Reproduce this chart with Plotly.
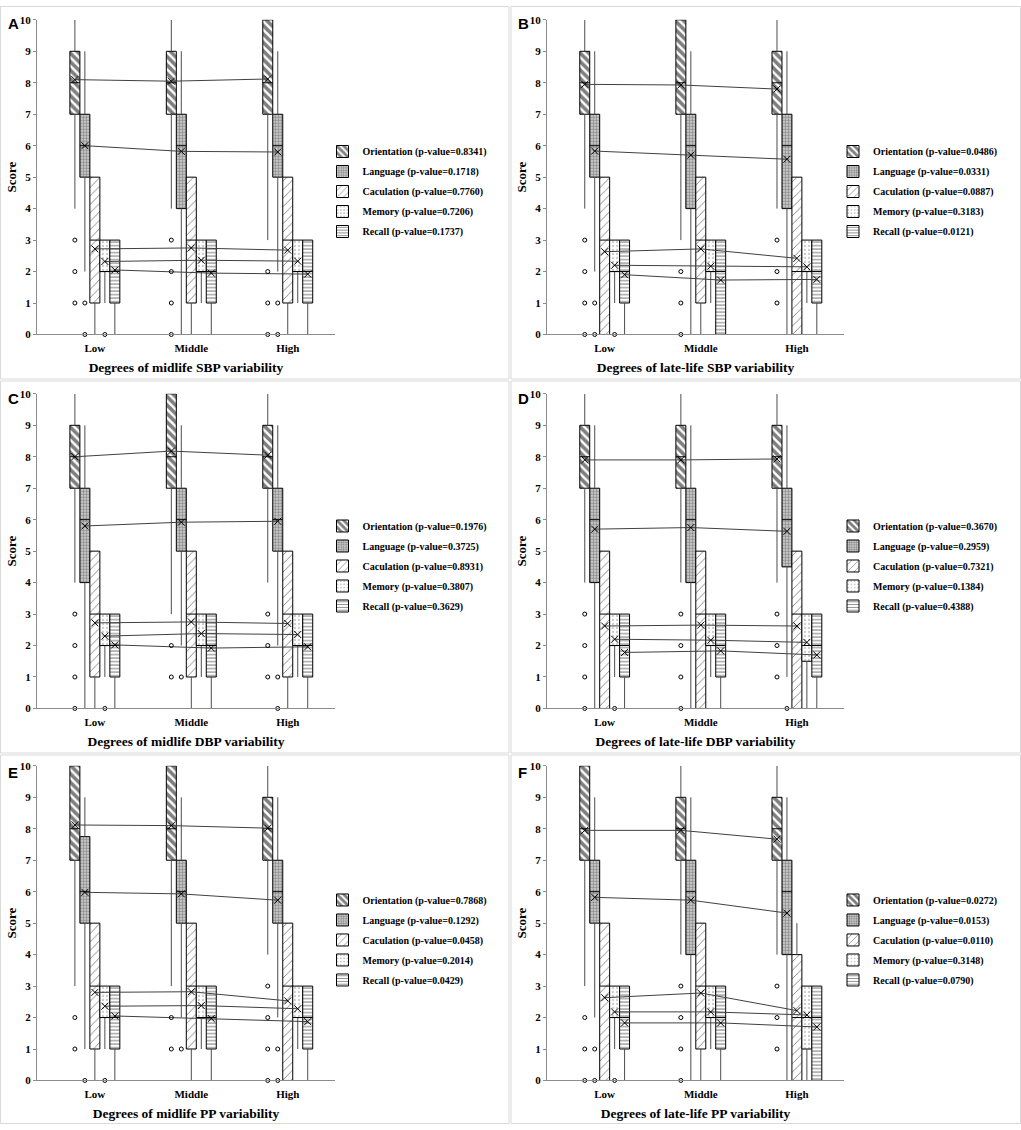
import plotly.graph_objects as go

groups = ["Low", "Middle", "High"]
domains = ["Orientation", "Language", "Caculation", "Memory", "Recall"]
letters = ["A", "B", "C", "D", "E", "F"]
x_titles = [
    "Degrees of midlife SBP variability",
    "Degrees of late-life SBP variability",
    "Degrees of midlife DBP variability",
    "Degrees of late-life DBP variability",
    "Degrees of midlife PP variability",
    "Degrees of late-life PP variability",
]
p_values = [
    ["0.8341", "0.1718", "0.7760", "0.7206", "0.1737"],
    ["0.0486", "0.0331", "0.0887", "0.3183", "0.0121"],
    ["0.1976", "0.3725", "0.8931", "0.3807", "0.3629"],
    ["0.3670", "0.2959", "0.7321", "0.1384", "0.4388"],
    ["0.7868", "0.1292", "0.0458", "0.2014", "0.0429"],
    ["0.0272", "0.0153", "0.0110", "0.3148", "0.0790"],
]

# each stat: [Low, Middle, High] x [Orientation, Language, Caculation, Memory, Recall]
a_min = [[4, 2, 0, 1, 0], [4, 0, 0, 1, 0], [3, 2, 0, 1, 0]]
a_q1 = [[7, 5, 1, 2, 1], [7, 4, 1, 2, 1], [7, 5, 1, 2, 1]]
a_med = [[8, 6, 3, 2, 2], [8, 6, 3, 2, 2], [8, 6, 3, 2, 2]]
a_q3 = [[9, 7, 5, 3, 3], [9, 7, 5, 3, 3], [10, 7, 5, 3, 3]]
a_max = [[10, 9, 5, 3, 3], [10, 9, 5, 3, 3], [10, 9, 5, 3, 3]]
a_mean = [[8.1, 6.0, 2.72, 2.32, 2.05], [8.05, 5.82, 2.75, 2.36, 1.95], [8.12, 5.8, 2.68, 2.33, 1.92]]
a_out = [[[3, 2, 1], [1, 0], [], [0], []], [[3, 2, 1, 0], [], [], [], []], [[2, 1, 0], [1, 0], [], [], []]]

b_min = [[4, 2, 0, 1, 0], [3, 0, 0, 1, 0], [4, 0, 0, 1, 0]]
b_q1 = [[7, 5, 0, 2, 1], [7, 4, 1, 2, 0], [7, 4, 0, 2, 1]]
b_med = [[8, 6, 3, 2, 2], [8, 6, 3, 2, 2], [8, 6, 2, 2, 2]]
b_q3 = [[9, 7, 5, 3, 3], [10, 7, 5, 3, 3], [9, 7, 5, 3, 3]]
b_max = [[10, 9, 5, 3, 3], [10, 9, 5, 3, 3], [10, 9, 5, 3, 3]]
b_mean = [[7.95, 5.83, 2.63, 2.2, 1.9], [7.93, 5.7, 2.72, 2.17, 1.73], [7.8, 5.57, 2.42, 2.15, 1.75]]
b_out = [[[3, 2, 1, 0], [1, 0], [], [0], []], [[2, 1, 0], [], [], [], []], [[3, 2, 1], [], [], [], []]]

c_min = [[4, 0, 0, 1, 0], [3, 2, 0, 1, 0], [4, 2, 0, 1, 0]]
c_q1 = [[7, 4, 1, 2, 1], [7, 5, 1, 2, 1], [7, 5, 1, 2, 1]]
c_med = [[8, 6, 3, 2, 2], [8, 6, 3, 2, 2], [8, 6, 3, 2, 2]]
c_q3 = [[9, 7, 5, 3, 3], [10, 7, 5, 3, 3], [9, 7, 5, 3, 3]]
c_max = [[10, 9, 5, 3, 3], [10, 9, 5, 3, 3], [10, 9, 5, 3, 3]]
c_mean = [[8.0, 5.8, 2.72, 2.3, 2.02], [8.18, 5.92, 2.75, 2.38, 1.92], [8.05, 5.95, 2.7, 2.35, 1.96]]
c_out = [[[3, 2, 1, 0], [], [], [0], []], [[2, 1], [1], [], [], []], [[3, 2, 1], [1, 0], [], [], []]]

d_min = [[4, 0, 0, 1, 0], [4, 0, 0, 1, 0], [4, 1, 0, 0, 0]]
d_q1 = [[7, 4, 0, 2, 1], [7, 4, 0, 2, 1], [7, 4.5, 0, 1.5, 1]]
d_med = [[8, 6, 3, 2, 2], [8, 6, 3, 2, 2], [8, 6, 3, 2, 2]]
d_q3 = [[9, 7, 5, 3, 3], [9, 7, 5, 3, 3], [9, 7, 5, 3, 3]]
d_max = [[10, 9, 5, 3, 3], [10, 9, 5, 3, 3], [10, 9, 5, 3, 3]]
d_mean = [[7.9, 5.7, 2.62, 2.2, 1.78], [7.9, 5.75, 2.65, 2.17, 1.83], [7.93, 5.63, 2.62, 2.1, 1.7]]
d_out = [[[3, 2, 1, 0], [], [], [0], []], [[3, 2, 1, 0], [], [], [], []], [[3, 2, 1], [0], [], [], []]]

e_min = [[3, 1, 0, 1, 0], [3, 2, 0, 1, 0], [4, 2, 0, 1, 0]]
e_q1 = [[7, 5, 1, 2, 1], [7, 5, 1, 2, 1], [7, 5, 0, 2, 1]]
e_med = [[8, 6, 3, 2, 2], [8, 6, 3, 2, 2], [8, 6, 3, 2, 2]]
e_q3 = [[10, 7.75, 5, 3, 3], [10, 7, 5, 3, 3], [9, 7, 5, 3, 3]]
e_max = [[10, 9, 5, 3, 3], [10, 9, 5, 3, 3], [10, 9, 5, 3, 3]]
e_mean = [[8.12, 5.98, 2.8, 2.36, 2.05], [8.1, 5.93, 2.82, 2.38, 1.97], [8.02, 5.73, 2.53, 2.28, 1.87]]
e_out = [[[2, 1], [0], [], [0], []], [[2, 1], [1], [], [], []], [[3, 2, 1, 0], [1, 0], [], [], []]]

f_min = [[3, 2, 0, 1, 0], [4, 0, 0, 1, 0], [4, 0, 0, 0, 0]]
f_q1 = [[7, 5, 0, 2, 1], [7, 4, 1, 2, 1], [7, 4, 0, 1, 0]]
f_med = [[8, 6, 3, 2, 2], [8, 6, 3, 2, 2], [8, 6, 2, 2, 2]]
f_q3 = [[10, 7, 5, 3, 3], [9, 7, 5, 3, 3], [9, 7, 4, 3, 3]]
f_max = [[10, 9, 5, 3, 3], [10, 9, 5, 3, 3], [10, 9, 5, 3, 3]]
f_mean = [[7.95, 5.82, 2.63, 2.18, 1.83], [7.95, 5.73, 2.78, 2.18, 1.83], [7.67, 5.32, 2.22, 2.08, 1.7]]
f_out = [[[2, 1, 0], [1, 0], [], [0], []], [[3, 2, 1, 0], [], [], [], []], [[3, 2, 1], [], [], [], []]]

panels = [
    (a_min, a_q1, a_med, a_q3, a_max, a_mean, a_out),
    (b_min, b_q1, b_med, b_q3, b_max, b_mean, b_out),
    (c_min, c_q1, c_med, c_q3, c_max, c_mean, c_out),
    (d_min, d_q1, d_med, d_q3, d_max, d_mean, d_out),
    (e_min, e_q1, e_med, e_q3, e_max, e_mean, e_out),
    (f_min, f_q1, f_med, f_q3, f_max, f_mean, f_out),
]

W, H = 1021, 1130
STEP = 0.1036  # width of one box in x units (one category = 1)
SERIF = "Liberation Serif"

patterns = [
    dict(shape="\\", size=6, solidity=0.6, fgcolor="black", bgcolor="white"),
    dict(shape=".", size=3, solidity=0.5, fgcolor="#3a3a3a", bgcolor="#d6d6d6"),
    dict(shape="/", size=6, solidity=0.15, fgcolor="black", bgcolor="white"),
    dict(shape=".", size=4, solidity=0.15, fgcolor="#333333", bgcolor="white"),
    dict(shape="-", size=3.5, solidity=0.3, fgcolor="black", bgcolor="white"),
]

col_px = [(37, 335), (547, 844)]
row_px = [(14, 332), (392, 710), (768, 1086)]
panel_px = [(0.5, 509), (511, 1020.5)]
panel_py = [(0.5, 377), (379, 755), (757, 1129.5)]

fig = go.Figure()
layout = {}
shapes = []
annotations = []

for pi, (mins, q1s, meds, q3s, maxs, means, outs) in enumerate(panels):
    row, col = pi // 2, pi % 2
    sfx = "" if pi == 0 else str(pi + 1)
    xa, ya = "x" + sfx, "y" + sfx
    leg = "legend" + sfx

    x0, x1 = col_px[col]
    y0, y1 = row_px[row]
    layout["xaxis" + sfx] = dict(
        domain=[x0 / W, x1 / W], anchor=ya, range=[-0.6, 2.49],
        tickvals=[0, 1, 2], ticktext=groups, showgrid=False, zeroline=False,
        showline=True, linecolor="#8c8c8c", linewidth=1, ticks="", ticklabelstandoff=3,
        tickfont=dict(family=SERIF, size=11, color="black", weight="bold"),
        title=dict(text=x_titles[pi], standoff=9,
                   font=dict(family=SERIF, size=13.5, color="black", weight="bold")),
    )
    layout["yaxis" + sfx] = dict(
        domain=[1 - y1 / H, 1 - y0 / H], anchor=xa, range=[0, 10],
        tickvals=list(range(11)), showgrid=False, zeroline=False,
        showline=True, linecolor="#8c8c8c", linewidth=1,
        ticks="outside", ticklen=3, tickcolor="#8c8c8c",
        tickfont=dict(family=SERIF, size=11, color="black", weight="bold"),
        title=dict(text="Score", standoff=0,
                   font=dict(family=SERIF, size=13, color="black", weight="bold")),
    )
    layout[leg] = dict(
        x=(panel_px[col][0] + 322) / W, y=1 - (panel_py[row][0] + 187) / H,
        xanchor="left", yanchor="middle", bgcolor="rgba(0,0,0,0)",
        font=dict(family=SERIF, size=10, color="black", weight="bold"),
        itemwidth=30, tracegroupgap=1,
    )

    px0, px1 = panel_px[col]
    py0, py1 = panel_py[row]
    shapes.append(dict(type="rect", xref="paper", yref="paper",
                       x0=px0 / W, x1=px1 / W, y0=1 - py1 / H, y1=1 - py0 / H,
                       line=dict(color="#d9d9d9", width=1), layer="below"))
    annotations.append(dict(text="<b>" + letters[pi] + "</b>", xref="paper", yref="paper",
                            x=(px0 + 5) / W, y=1 - (py0 + 7) / H, xanchor="left", yanchor="top",
                            showarrow=False, font=dict(family="Liberation Sans", size=15, color="black")))

    wx, wy, mx, my, ox, oy = [], [], [], [], [], []
    for si, dom in enumerate(domains):
        pos = [gi + (si - 2) * STEP for gi in range(len(groups))]
        q1 = [q1s[gi][si] for gi in range(3)]
        q3 = [q3s[gi][si] for gi in range(3)]
        fig.add_trace(go.Bar(
            x=pos, y=[b - a for a, b in zip(q1, q3)], base=q1, width=STEP,
            marker=dict(color="white", line=dict(color="black", width=1), pattern=patterns[si]),
            name=f"{dom} (p-value={p_values[pi][si]})", legend=leg, legendgroup=f"{pi}-{si}",
            xaxis=xa, yaxis=ya, hoverinfo="skip",
        ))
        for gi in range(3):
            p = pos[gi]
            wx += [p, p, None, p, p, None]
            wy += [mins[gi][si], q1s[gi][si], None, q3s[gi][si], maxs[gi][si], None]
            mx += [p - STEP / 2, p + STEP / 2, None]
            my += [meds[gi][si], meds[gi][si], None]
            for v in outs[gi][si]:
                ox.append(p)
                oy.append(v)

    fig.add_trace(go.Scatter(x=wx, y=wy, mode="lines", line=dict(color="#4d4d4d", width=1),
                             showlegend=False, xaxis=xa, yaxis=ya, cliponaxis=False, hoverinfo="skip"))
    fig.add_trace(go.Scatter(x=mx, y=my, mode="lines", line=dict(color="black", width=1),
                             showlegend=False, xaxis=xa, yaxis=ya, hoverinfo="skip"))
    for si in range(len(domains)):
        pos = [gi + (si - 2) * STEP for gi in range(len(groups))]
        fig.add_trace(go.Scatter(
            x=pos, y=[means[gi][si] for gi in range(3)], mode="lines+markers",
            line=dict(color="#404040", width=1),
            marker=dict(symbol="x-thin", size=7, line=dict(color="black", width=1)),
            showlegend=False, xaxis=xa, yaxis=ya,
        ))
    fig.add_trace(go.Scatter(x=ox, y=oy, mode="markers",
                             marker=dict(symbol="circle-open", size=4, color="black", line=dict(width=1)),
                             showlegend=False, xaxis=xa, yaxis=ya, cliponaxis=False))

fig.update_layout(
    width=W, height=H, autosize=False,
    margin=dict(l=0, r=0, t=0, b=0),
    paper_bgcolor="white", plot_bgcolor="white",
    barmode="overlay",
    shapes=shapes, annotations=annotations,
    **layout,
)

fig.write_html("out.html", config={"displayModeBar": False},
               post_script="document.body.style.margin='0';")
